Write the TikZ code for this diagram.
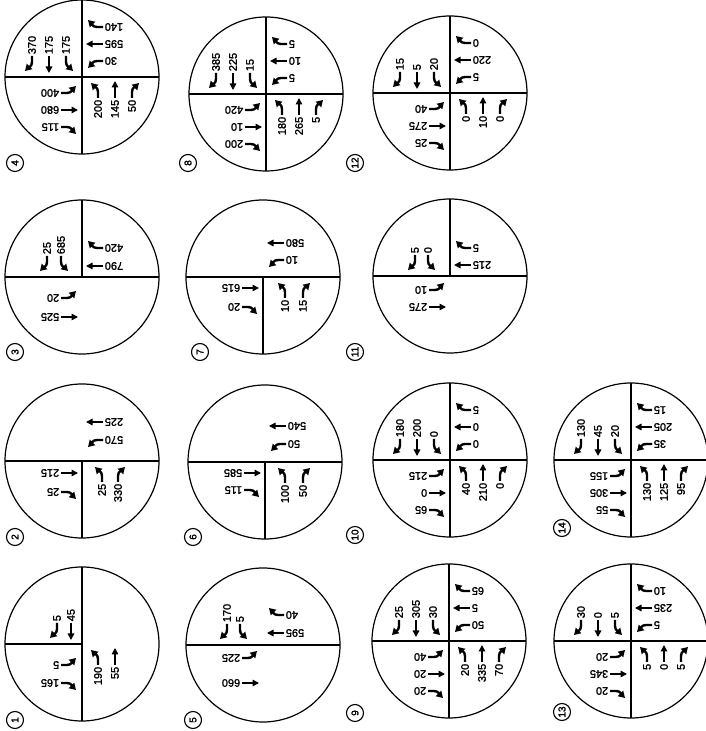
\documentclass[tikz,border=0pt]{standalone}
\usepackage{fontspec}
\setmainfont{Liberation Sans}
\newfontfamily\numfont[FakeBold=1.6]{Liberation Sans}
\usetikzlibrary{arrows.meta}
\newcounter{nn}
\tikzset{
  numtxt/.style={font=\numfont\fontsize{11}{11}\selectfont, inner sep=0.6pt},
  turnarr/.style={line width=2.4pt, -{Triangle[length=6.5pt,width=7.5pt]}},
  thruarr/.style={line width=1.5pt, -{Triangle[length=6.5pt,width=6.5pt]}},
  ring/.style={line width=1.2pt},
  divline/.style={line width=1.1pt},
  tag/.style={circle, draw, line width=1.1pt, inner sep=0pt, minimum size=17pt, rotate=90, font=\numfont\fontsize{10}{10}\selectfont}
}
\newcommand\ArrL[1]{\draw[turnarr] (#1,-21) -- (#1,-15) to[out=90,in=-45] ({#1-7},-6);}
\newcommand\ArrR[1]{\draw[turnarr] (#1,-21) -- (#1,-15) to[out=90,in=225] ({#1+7},-6);}
\newcommand\ArrT[1]{\draw[thruarr] (#1,-21) -- (#1,-4);}
\newcommand\Mv[6]{%
  \begin{scope}[rotate=#1]
    #4{#5}
    \stepcounter{nn}
    \node[numtxt, rotate=#2, anchor=#3] (v\arabic{nn}) at (#5,-22) {#6};
  \end{scope}}
\newcommand\qLR[3]{\Mv{0}{90}{east}{#1}{#2}{#3}}
\newcommand\qUR[3]{\Mv{90}{180}{east}{#1}{#2}{#3}}
\newcommand\qUL[3]{\Mv{180}{90}{west}{#1}{#2}{#3}}
\newcommand\qLL[3]{\Mv{-90}{180}{west}{#1}{#2}{#3}}
\newcommand\tri[4]{#1{\ArrL}{16}{#2}#1{\ArrT}{33}{#3}#1{\ArrR}{50}{#4}}
\newcommand\Hf{\draw[divline] (-77,0) -- (77,0);}
\newcommand\Vf{\draw[divline] (0,-77) -- (0,77);}
\newcommand\Vu{\draw[divline] (0,0) -- (0,77);}
\newcommand\Vd{\draw[divline] (0,0) -- (0,-77);}
\newcommand\Hl{\draw[divline] (-77,0) -- (0,0);}
\newcommand\Isect[6]{% cx cy label lx ly body (image coords)
  \node[tag] (tag#3) at (#4,{731-#5}) {#3};
  \begin{scope}[shift={(#1,{731-#2})}]
    \draw[ring] (0,0) circle[radius=77];
    #6
  \end{scope}}
\begin{document}
\begin{tikzpicture}[x=1pt,y=1pt]
\fill[white] (0,0) rectangle (705,731);
\useasboundingbox (0,0) rectangle (705,731);

% 1
\Isect{82}{644}{1}{15}{720}{\Vf\Hl
  \qUL{\ArrR}{25}{5}\qUL{\ArrT}{11}{45}
  \qLL{\ArrL}{21}{5}\qLL{\ArrR}{39}{165}
  \qLR{\ArrL}{16}{190}\qLR{\ArrT}{33}{55}}
% 2
\Isect{82}{461}{2}{15}{537}{\Hf\Vd
  \qUR{\ArrT}{39}{225}\qUR{\ArrL}{21}{570}
  \qLL{\ArrT}{12}{215}\qLL{\ArrR}{31}{25}
  \qLR{\ArrL}{20}{25}\qLR{\ArrR}{36}{330}}
% 3
\Isect{82}{277}{3}{15}{352}{\Hf\Vu
  \qUL{\ArrR}{35}{25}\qUL{\ArrL}{21}{685}
  \qUR{\ArrR}{29}{420}\qUR{\ArrT}{11}{790}
  \qLL{\ArrL}{21}{20}\qLL{\ArrT}{40}{525}}
% 4
\Isect{82}{77}{4}{15}{163}{\Hf\Vf
  \tri\qUL{175}{175}{370}
  \tri\qUR{30}{595}{140}
  \tri\qLL{400}{680}{115}
  \tri\qLR{200}{145}{50}}
% 5
\Isect{263}{645}{5}{193}{720}{\Hf
  \qUL{\ArrR}{36}{170}\qUL{\ArrL}{23}{5}
  \qUR{\ArrR}{30}{40}\qUR{\ArrT}{12}{595}
  \qLL{\ArrL}{13}{225}\qLL{\ArrT}{38}{660}}
% 6
\Isect{265}{462}{6}{193}{537}{\Hf\Vd
  \qUR{\ArrT}{36}{540}\qUR{\ArrL}{18}{50}
  \qLL{\ArrT}{11}{585}\qLL{\ArrR}{28}{115}
  \qLR{\ArrL}{20}{100}\qLR{\ArrR}{38}{50}}
% 7
\Isect{263}{277}{7}{200}{352}{\Hf\Vd
  \qUR{\ArrT}{34}{580}\qUR{\ArrL}{17}{10}
  \qLL{\ArrT}{11}{615}\qLL{\ArrR}{30}{20}
  \qLR{\ArrL}{22}{10}\qLR{\ArrR}{40}{15}}
% 8
\Isect{266}{94}{8}{188}{163}{\Hf\Vf
  \tri\qUL{15}{225}{385}
  \tri\qUR{5}{10}{5}
  \tri\qLL{420}{10}{200}
  \tri\qLR{180}{265}{5}}
% 9
\Isect{449}{641}{9}{355}{713}{\Hf\Vf
  \tri\qUL{30}{305}{25}
  \tri\qUR{50}{5}{65}
  \tri\qLL{40}{20}{20}
  \tri\qLR{20}{335}{70}}
% 10
\Isect{450}{460}{10}{355}{535}{\Hf\Vf
  \tri\qUL{0}{200}{180}
  \tri\qUR{0}{0}{5}
  \tri\qLL{215}{0}{65}
  \tri\qLR{40}{210}{0}}
% 11
\Isect{450}{276}{11}{355}{352}{\Hf\Vu
  \qUL{\ArrR}{35}{5}\qUL{\ArrL}{22}{0}
  \qUR{\ArrR}{28}{5}\qUR{\ArrT}{11}{215}
  \qLL{\ArrL}{14}{10}\qLL{\ArrT}{31}{275}}
% 12
\Isect{450}{93}{12}{355}{163}{\Hf\Vf
  \tri\qUL{20}{5}{15}
  \tri\qUR{5}{220}{0}
  \tri\qLL{40}{275}{25}
  \tri\qLR{0}{10}{0}}
% 13
\Isect{631}{641}{13}{562}{712}{\Hf\Vf
  \tri\qUL{5}{0}{30}
  \tri\qUR{5}{235}{10}
  \tri\qLL{20}{345}{20}
  \tri\qLR{5}{0}{5}}
% 14
\Isect{631}{460}{14}{562}{528}{\Hf\Vf
  \tri\qUL{20}{45}{130}
  \tri\qUR{35}{205}{15}
  \tri\qLL{155}{305}{55}
  \tri\qLR{130}{125}{95}}
\end{tikzpicture}
\end{document}
